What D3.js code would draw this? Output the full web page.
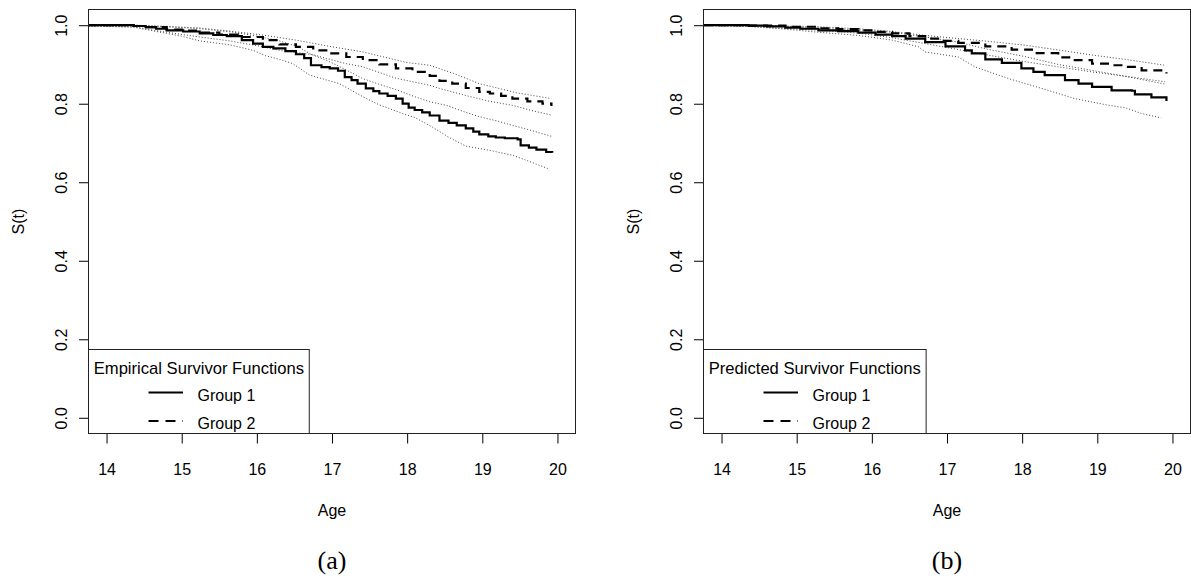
<!DOCTYPE html>
<html>
<head>
<meta charset="utf-8">
<script src="https://cdn.jsdelivr.net/npm/d3@7"></script>
<style>
    body { margin: 0; background: #fff; }
    text { font-family: "Liberation Sans", Arial, sans-serif; fill: #000; }
    .panel-label { font-family: "Liberation Serif", "Times New Roman", serif; }
</style>
</head>
<body>
<svg id="chart" width="1191" height="578"></svg>
<script>
const xTicks = [14, 15, 16, 17, 18, 19, 20];
const yTicks = [0.0, 0.2, 0.4, 0.6, 0.8, 1.0];
const groupLabels = ["Group 1", "Group 2"];
const legendTitles = ["Empirical Survivor Functions", "Predicted Survivor Functions"];
const panelLabels = ["(a)", "(b)"];

// panel (a): Kaplan-Meier estimates, [age, S(t)]
const empG1 = [
    [13.76, 1.000], [14.36, 0.998], [14.52, 0.995], [14.66, 0.991], [14.80, 0.987],
    [15.02, 0.984], [15.24, 0.979], [15.42, 0.975], [15.60, 0.972], [15.80, 0.962],
    [15.95, 0.953], [16.08, 0.945], [16.22, 0.941], [16.38, 0.934], [16.52, 0.926],
    [16.63, 0.916], [16.72, 0.898], [16.86, 0.893], [16.97, 0.890], [17.08, 0.884],
    [17.17, 0.868], [17.26, 0.860], [17.34, 0.851], [17.45, 0.839], [17.55, 0.832],
    [17.63, 0.826], [17.74, 0.820], [17.85, 0.813], [17.94, 0.800], [18.02, 0.790],
    [18.10, 0.784], [18.20, 0.778], [18.30, 0.770], [18.43, 0.757], [18.55, 0.751],
    [18.66, 0.745], [18.78, 0.737], [18.88, 0.729], [18.96, 0.722], [19.08, 0.717],
    [19.18, 0.714], [19.30, 0.712], [19.47, 0.709], [19.51, 0.694], [19.62, 0.688],
    [19.72, 0.683], [19.85, 0.677], [19.93, 0.675]
];
const empG1Upper = [
    [13.76, 1.000], [14.36, 1.000], [14.80, 0.996], [15.24, 0.991], [15.70, 0.982],
    [16.00, 0.972], [16.30, 0.960], [16.55, 0.945], [16.72, 0.926], [16.97, 0.907],
    [17.20, 0.885], [17.41, 0.864], [17.62, 0.850], [17.85, 0.836], [18.10, 0.818],
    [18.30, 0.805], [18.52, 0.796], [18.75, 0.780], [18.96, 0.767], [19.20, 0.756],
    [19.40, 0.745], [19.65, 0.732], [19.92, 0.717]
];
const empG1Lower = [
    [13.76, 0.998], [14.36, 0.995], [14.80, 0.979], [15.00, 0.972], [15.24, 0.960],
    [15.64, 0.950], [15.95, 0.936], [16.12, 0.922], [16.30, 0.913], [16.48, 0.902],
    [16.70, 0.873], [17.10, 0.851], [17.25, 0.835], [17.41, 0.818], [17.63, 0.797],
    [17.94, 0.775], [18.10, 0.765], [18.34, 0.740], [18.55, 0.715], [18.78, 0.692],
    [19.05, 0.683], [19.40, 0.669], [19.60, 0.655], [19.87, 0.635]
];
const empG2 = [
    [13.76, 1.000], [14.36, 0.998], [14.52, 0.995], [14.80, 0.989], [15.02, 0.986],
    [15.24, 0.981], [15.50, 0.976], [15.75, 0.970], [16.08, 0.962], [16.30, 0.951],
    [16.52, 0.945], [16.75, 0.936], [16.97, 0.928], [17.19, 0.919], [17.41, 0.911],
    [17.63, 0.900], [17.85, 0.890], [18.07, 0.881], [18.30, 0.871], [18.43, 0.858],
    [18.60, 0.851], [18.78, 0.840], [18.96, 0.830], [19.10, 0.826], [19.25, 0.820],
    [19.40, 0.813], [19.60, 0.806], [19.80, 0.800], [19.92, 0.794]
];
const empG2Upper = [
    [13.76, 1.000], [14.36, 1.000], [14.80, 0.997], [15.24, 0.993], [15.64, 0.985],
    [16.08, 0.975], [16.52, 0.962], [16.97, 0.946], [17.41, 0.932], [17.99, 0.905],
    [18.30, 0.898], [18.65, 0.875], [18.96, 0.851], [19.20, 0.840], [19.45, 0.828],
    [19.92, 0.813]
];
const empG2Lower = [
    [13.76, 0.998], [14.36, 0.996], [14.80, 0.982], [15.24, 0.970], [15.64, 0.960],
    [16.00, 0.948], [16.30, 0.936], [16.74, 0.925], [17.19, 0.902], [17.41, 0.894],
    [17.85, 0.865], [18.30, 0.847], [18.43, 0.839], [18.80, 0.820], [19.10, 0.806],
    [19.40, 0.796], [19.65, 0.783], [19.92, 0.771]
];

// panel (b): model predictions
const predG1 = [
    [13.76, 1.000], [14.36, 0.999], [14.60, 0.997], [14.85, 0.994], [15.05, 0.991],
    [15.29, 0.987], [15.55, 0.985], [15.82, 0.981], [16.05, 0.976], [16.27, 0.972],
    [16.45, 0.966], [16.71, 0.957], [16.98, 0.946], [17.24, 0.936], [17.33, 0.928],
    [17.51, 0.913], [17.73, 0.904], [17.99, 0.890], [18.15, 0.881], [18.30, 0.873],
    [18.57, 0.860], [18.75, 0.851], [18.93, 0.843], [19.19, 0.834], [19.46, 0.833],
    [19.50, 0.824], [19.72, 0.816], [19.92, 0.807]
];
const predG1Upper = [
    [13.76, 1.000], [14.36, 1.000], [15.29, 0.992], [15.82, 0.988], [16.27, 0.982],
    [16.71, 0.970], [17.15, 0.957], [17.51, 0.940], [18.04, 0.920], [18.48, 0.900],
    [18.93, 0.885], [19.37, 0.870], [19.90, 0.850]
];
const predG1Lower = [
    [13.76, 0.999], [14.36, 0.997], [14.85, 0.990], [15.29, 0.982], [15.82, 0.974],
    [16.27, 0.962], [16.62, 0.945], [16.71, 0.932], [17.15, 0.919], [17.37, 0.894],
    [17.82, 0.864], [18.26, 0.839], [18.70, 0.813], [19.15, 0.796], [19.37, 0.790],
    [19.59, 0.775], [19.85, 0.764]
];
const predG2 = [
    [13.76, 1.000], [14.36, 0.999], [14.85, 0.996], [15.29, 0.992], [15.55, 0.990],
    [15.82, 0.987], [16.05, 0.983], [16.27, 0.979], [16.50, 0.972], [16.71, 0.966],
    [16.95, 0.960], [17.15, 0.955], [17.51, 0.946], [17.86, 0.938], [18.13, 0.929],
    [18.48, 0.918], [18.70, 0.911], [18.93, 0.902], [19.19, 0.898], [19.37, 0.894],
    [19.59, 0.885], [19.92, 0.877]
];
const predG2Upper = [
    [13.76, 1.000], [14.36, 1.000], [15.29, 0.996], [15.82, 0.991], [16.27, 0.984],
    [16.71, 0.974], [17.15, 0.966], [17.60, 0.958], [18.04, 0.949], [18.48, 0.937],
    [18.93, 0.924], [19.37, 0.913], [19.90, 0.898]
];
const predG2Lower = [
    [13.76, 0.999], [14.36, 0.997], [15.29, 0.987], [15.82, 0.980], [16.27, 0.968],
    [16.71, 0.953], [17.15, 0.938], [17.60, 0.922], [18.04, 0.907], [18.48, 0.894],
    [18.93, 0.881], [19.37, 0.870], [19.90, 0.856]
];

const LINESTYLES = {
    est1: { width: 2.2, dash: null, color: "#000", curve: d3.curveStepAfter },
    est2: { width: 2.2, dash: "9,6", color: "#000", curve: d3.curveStepAfter },
    ci: { width: 1, dash: "1,2", color: "#444", curve: d3.curveLinear }
};

const panels = [
    { left: 88.5, series: [
        { data: empG1Upper, style: "ci" }, { data: empG1Lower, style: "ci" },
        { data: empG2Upper, style: "ci" }, { data: empG2Lower, style: "ci" },
        { data: empG1, style: "est1" }, { data: empG2, style: "est2" }] },
    { left: 703.5, series: [
        { data: predG1Upper, style: "ci" }, { data: predG1Lower, style: "ci" },
        { data: predG2Upper, style: "ci" }, { data: predG2Lower, style: "ci" },
        { data: predG1, style: "est1" }, { data: predG2, style: "est2" }] }
];

const svg = d3.select("#chart");
const boxW = 487, plotTop = 9.5, plotBottom = 433.5;

panels.forEach((p, i) => {
    let g = svg.append("g");
    let x = d3.scaleLinear().domain([13.76, 20.24]).range([p.left, p.left + boxW]);
    let y = d3.scaleLinear().domain([-0.04, 1.04]).range([plotBottom, plotTop]);

    // curves
    p.series.forEach(s => {
        let st = LINESTYLES[s.style];
        let line = d3.line()
            .x(d => x(d[0]))
            .y(d => y(d[1]))
            .curve(st.curve);
        g.append("path")
            .attr("d", line(s.data))
            .attr("fill", "none")
            .attr("stroke", st.color)
            .attr("stroke-width", st.width)
            .attr("stroke-dasharray", st.dash);
    });

    // axes
    let xAxis = g.append("g")
        .attr("transform", "translate(0," + plotBottom + ")")
        .call(d3.axisBottom(x).tickValues(xTicks).tickFormat(d3.format("d"))
            .tickSize(10).tickSizeOuter(0).tickPadding(20))
        .style("color", "#000");
    xAxis.select(".domain").remove();
    xAxis.selectAll("text").style("font-size", "16px");

    let yAxis = g.append("g")
        .attr("transform", "translate(" + p.left + ",0)")
        .call(d3.axisLeft(y).tickValues(yTicks).tickSize(9.5).tickSizeOuter(0).tickFormat(d3.format(".1f")))
        .style("color", "#000");
    yAxis.select(".domain").remove();
    yAxis.selectAll("text")
        .attr("x", null)
        .attr("dy", null)
        .attr("text-anchor", "middle")
        .attr("transform", "translate(-21.8,0) rotate(-90)")
        .style("font-size", "16px");

    // frame
    g.append("rect")
        .attr("x", p.left).attr("y", plotTop)
        .attr("width", boxW).attr("height", plotBottom - plotTop)
        .attr("fill", "none").attr("stroke", "#222").attr("stroke-width", 1);

    // axis titles
    let cx = p.left + boxW / 2;
    g.append("text")
        .attr("x", cx).attr("y", 516)
        .attr("text-anchor", "middle")
        .style("font-size", "16px")
        .text("Age");
    g.append("text")
        .attr("transform", "translate(" + (p.left - 65) + "," + (plotTop + plotBottom) / 2 + ") rotate(-90)")
        .attr("text-anchor", "middle")
        .style("font-size", "16px")
        .text("S(t)");
    g.append("text")
        .attr("class", "panel-label")
        .attr("x", cx).attr("y", 569)
        .attr("text-anchor", "middle")
        .style("font-size", "26px")
        .text(panelLabels[i]);

    // legend
    let leg = g.append("g");
    let legBox = leg.append("rect")
        .attr("x", p.left).attr("y", 349.5)
        .attr("height", plotBottom - 349.5)
        .attr("fill", "#fff").attr("stroke", "#222").attr("stroke-width", 1);
    let title = leg.append("text")
        .attr("y", 373.5)
        .attr("text-anchor", "middle")
        .style("font-size", "16.6px")
        .text(legendTitles[i]);
    let tw = title.node().getComputedTextLength();
    legBox.attr("width", tw + 10.5);
    title.attr("x", p.left + (tw + 10.5) / 2);

    groupLabels.forEach((lab, k) => {
        let ly = [392.5, 421][k];
        let st = LINESTYLES[k === 0 ? "est1" : "est2"];
        leg.append("line")
            .attr("x1", p.left + 60).attr("x2", p.left + 94.5)
            .attr("y1", ly).attr("y2", ly)
            .attr("stroke", "#000")
            .attr("stroke-width", st.width)
            .attr("stroke-dasharray", st.dash ? "10,7" : null);
        leg.append("text")
            .attr("x", p.left + 109)
            .attr("y", [400.5, 429][k])
            .style("font-size", "16px")
            .text(lab);
    });
});
</script>
</body>
</html>
